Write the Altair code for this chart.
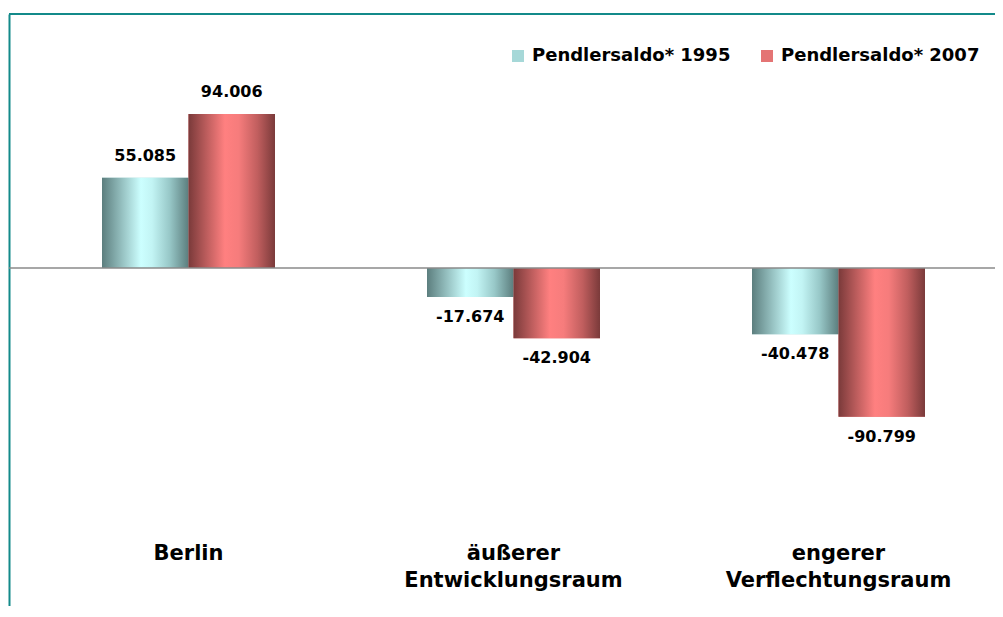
import altair as alt
import pandas as pd

categories = ["Berlin", "äußerer Entwicklungsraum", "engerer Verflechtungsraum"]
series = ["Pendlersaldo* 1995", "Pendlersaldo* 2007"]
values_1995 = [55.085, -17.674, -40.478]
values_2007 = [94.006, -42.904, -90.799]

rows = []
for c, v in zip(categories, values_1995):
    rows.append({"category": c, "series": series[0], "value": v})
for c, v in zip(categories, values_2007):
    rows.append({"category": c, "series": series[1], "value": v})
df = pd.DataFrame(rows)

FONT = "DejaVu Sans"
TEAL = "#138A8A"
W, H = 986, 592
Y_TOP, Y_BOTTOM = 155.07, -206.35

teal_grad = {
    "gradient": "linear", "x1": 0, "x2": 1, "y1": 0, "y2": 0,
    "stops": [
        {"offset": 0, "color": "#5C7E7E"},
        {"offset": 0.45, "color": "#CCFFFF"},
        {"offset": 0.58, "color": "#C2F4F4"},
        {"offset": 0.78, "color": "#98C8C8"},
        {"offset": 1, "color": "#5C7E7E"},
    ],
}
red_grad = {
    "gradient": "linear", "x1": 0, "x2": 1, "y1": 0, "y2": 0,
    "stops": [
        {"offset": 0, "color": "#7A3A3A"},
        {"offset": 0.42, "color": "#FF8080"},
        {"offset": 0.58, "color": "#F67C7C"},
        {"offset": 0.8, "color": "#C05E5E"},
        {"offset": 1, "color": "#7A3A3A"},
    ],
}

x_enc = alt.X(
    "category:N",
    sort=categories,
    scale=alt.Scale(range=[93, 916], paddingInner=0.4677, paddingOuter=0),
    axis=alt.Axis(
        title=None, domain=False, ticks=False, grid=False,
        labelFont=FONT, labelFontSize=21, labelFontWeight="bold", labelColor="#000000",
        labelExpr="split(datum.label, ' ')", labelLineHeight=27.5,
        labelBaseline="alphabetic", labelPadding=0, offset=-47,
        labelLimit=0, labelOverlap=False, labelBound=False, labelAngle=0,
    ),
)
xoff_enc = alt.XOffset("series:N", sort=series,
                       scale=alt.Scale(domain=series, paddingInner=0, paddingOuter=0))
y_enc = alt.Y(
    "value:Q",
    scale=alt.Scale(domain=[Y_BOTTOM, Y_TOP], nice=False),
    axis=alt.Axis(
        title=None, orient="left", labels=False, ticks=False, grid=False,
        domain=True, domainColor=TEAL, domainWidth=2,
    ),
)

base = alt.Chart(df)

legend_bars = base.mark_bar().encode(
    x=x_enc, xOffset=xoff_enc, y=y_enc,
    fill=alt.Fill(
        "series:N",
        scale=alt.Scale(domain=series, range=["#A6D8D8", "#E47474"]),
        legend=alt.Legend(
            title=None, orient="none", legendX=500, legendY=33, direction="horizontal",
            labelFont=FONT, labelFontSize=18, labelFontWeight="bold", labelColor="#000000",
            symbolType="square", symbolSize=144, symbolStrokeWidth=0,
            labelOffset=5, columnPadding=27, padding=0, labelLimit=0,
        ),
    ),
)

grad_layers = []
for s, g in zip(series, [teal_grad, red_grad]):
    grad_layers.append(
        base.transform_filter(alt.datum.series == s)
        .mark_bar(fill=g)
        .encode(x=x_enc, xOffset=xoff_enc, y=y_enc)
    )

label_expr = "(datum.value < 0 ? '-' : '') + format(abs(datum.value), '.3f')"
pos_text = (
    base.transform_filter(alt.datum.value > 0)
    .transform_calculate(lbl=label_expr)
    .mark_text(font=FONT, fontSize=16, fontWeight="bold", color="#000000",
               baseline="alphabetic", align="center", dy=-17)
    .encode(x=x_enc, xOffset=xoff_enc, y=y_enc, text="lbl:N")
)
neg_text = (
    base.transform_filter(alt.datum.value < 0)
    .transform_calculate(lbl=label_expr)
    .mark_text(font=FONT, fontSize=16, fontWeight="bold", color="#000000",
               baseline="alphabetic", align="center", dy=25)
    .encode(x=x_enc, xOffset=xoff_enc, y=y_enc, text="lbl:N")
)

zero_df = pd.DataFrame({"value": [0.0]})
top_df = pd.DataFrame({"value": [Y_TOP]})
zero_line = alt.Chart(zero_df).mark_rule(color="#8A8A8A", strokeWidth=1.5).encode(
    y=alt.Y("value:Q")
)
top_border = alt.Chart(top_df).mark_rule(color=TEAL, strokeWidth=2).encode(
    y=alt.Y("value:Q")
)

chart = (
    alt.layer(legend_bars, *grad_layers, zero_line, top_border, pos_text, neg_text)
    .properties(width=W, height=H, autosize=alt.AutoSizeParams(type="none"),
                padding={"left": 1, "top": 6, "right": 0, "bottom": 0},
                background="#FFFFFF")
    .configure_view(stroke=None)
)

chart.save("out.html", embed_options={"renderer": "svg", "actions": False})
